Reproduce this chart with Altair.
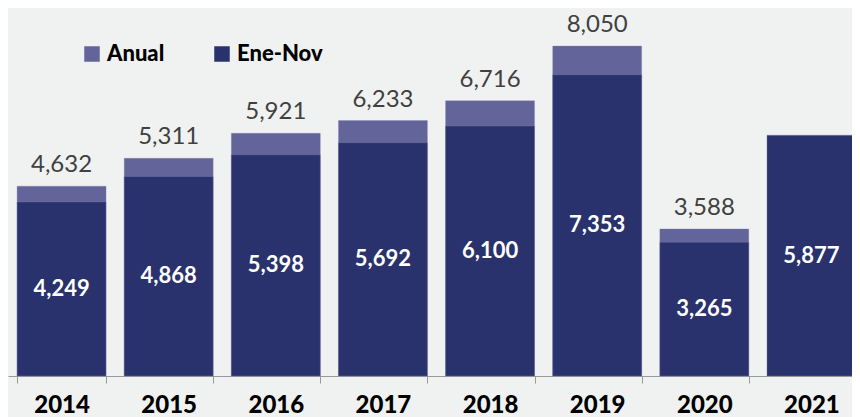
import altair as alt
import pandas as pd

years = ["2014", "2015", "2016", "2017", "2018", "2019", "2020", "2021"]
anual = [4632, 5311, 5921, 6233, 6716, 8050, 3588, None]
ene_nov = [4249, 4868, 5398, 5692, 6100, 7353, 3265, 5877]
series = ["Anual", "Ene-Nov"]
colors = ["#62649a", "#29326c"]

rows = []
for y, v in zip(years, anual):
    if v is not None:
        rows.append({"year": y, "series": "Anual", "value": v})
for y, v in zip(years, ene_nov):
    rows.append({"year": y, "series": "Ene-Nov", "value": v})
df = pd.DataFrame(rows)

FONT = "Lato"
H = 350
YMAX = H / 0.04098

x = alt.X("year:N", sort=years,
          scale=alt.Scale(range=[0, 857], paddingInner=0.17, paddingOuter=0.085),
          axis=alt.Axis(title=None, labelAngle=0, tickBand="extent", domainColor="#999999",
                        tickColor="#999999", tickSize=7, labelFontSize=24, labelFont=FONT,
                        labelFontWeight=900, labelColor="#000000", labelPadding=10))
yscale = alt.Scale(domain=[0, YMAX], nice=False, zero=True)

base = alt.Chart(df)

bars = base.mark_bar(stroke="#7d80b0", strokeWidth=0.6, strokeOpacity=0.6).encode(
    x=x,
    y=alt.Y("value:Q", stack=None, scale=yscale, axis=None),
    color=alt.Color("series:N", sort=series,
                    scale=alt.Scale(domain=series, range=colors),
                    legend=alt.Legend(title=None, orient="none", legendX=73, legendY=17,
                                      direction="horizontal", symbolType="square",
                                      symbolSize=240, symbolStrokeWidth=0,
                                      labelFontSize=22, labelFont=FONT, labelFontWeight=900,
                                      labelColor="#000000", columnPadding=46, labelOffset=4)),
    order=alt.Order("series:N", sort="ascending"),
)

top_labels = base.transform_filter(alt.datum.series == "Anual").mark_text(
    dy=-14, fontSize=24, font=FONT, color="#404040", baseline="alphabetic"
).encode(
    x=alt.X("year:N", sort=years),
    y=alt.Y("value:Q", scale=yscale),
    text=alt.Text("value:Q", format=","),
)

inner_labels = base.transform_filter(alt.datum.series == "Ene-Nov").transform_calculate(
    mid="datum.value / 2"
).mark_text(fontSize=22, font=FONT, fontWeight=700, color="#ffffff", baseline="middle").encode(
    x=alt.X("year:N", sort=years),
    y=alt.Y("mid:Q", scale=yscale),
    text=alt.Text("value:Q", format=","),
)

chart = alt.layer(bars, top_labels, inner_labels).properties(
    width=844, height=H,
    autosize=alt.AutoSizeParams(type="none"),
    padding={"left": 0, "top": 18, "right": 0, "bottom": 42},
    background="#f0f2f1",
).configure_view(stroke=None)

chart.save("out.html", embed_options={"renderer": "svg", "actions": False})
